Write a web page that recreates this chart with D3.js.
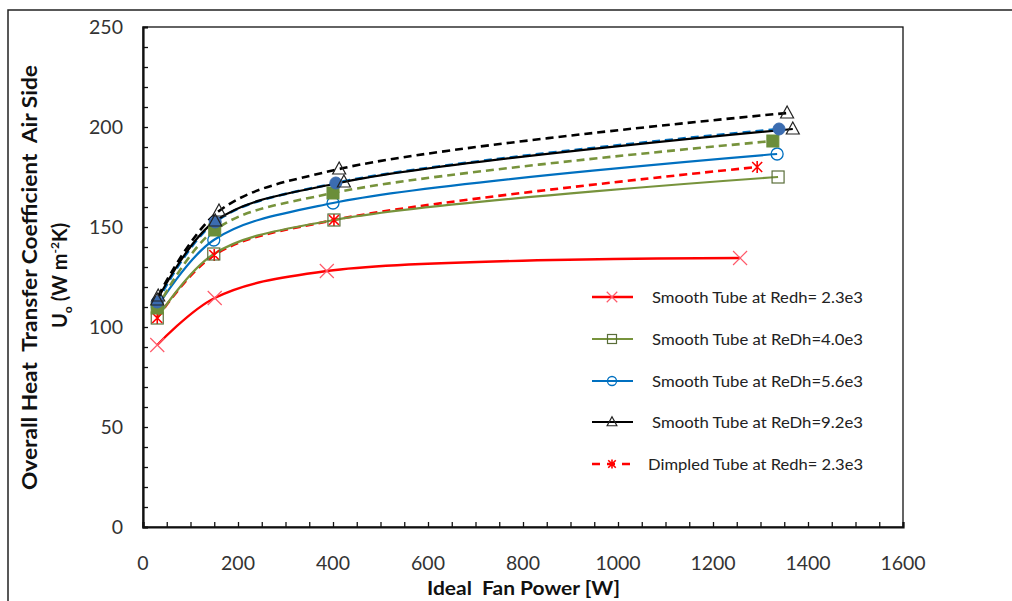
<!DOCTYPE html>
<html>
<head>
<meta charset="utf-8">
<script src="https://cdn.jsdelivr.net/npm/d3@7"></script>
<style>
  body { margin:0; background:#fff; }
  text { font-family: Lato, "Open Sans", sans-serif; white-space: pre; }
</style>
</head>
<body>
<div id="chart"></div>
<script>

// fan power [W] and U_o values
const smooth23X = [30, 151, 387, 1257];
const smooth23Y = [91, 114.5, 128, 134.5];
const smooth40X = [30, 149, 402, 1337];
const smooth40Y = [104.5, 136.5, 153.5, 175];
const smooth56X = [30, 149, 400, 1335];
const smooth56Y = [110, 143.5, 162, 186.5];
const smooth92X = [30, 152, 423, 1368];
const smooth92Y = [113.5, 153, 172.5, 199];
const dimpled23X = [30, 150, 402, 1293];
const dimpled23Y = [104.5, 136, 153.5, 180];
const dimpled40X = [30, 151, 400, 1326];
const dimpled40Y = [109.5, 148.5, 167, 193];
const dimpled56X = [30, 152, 406, 1339];
const dimpled56Y = [112.5, 152.5, 172, 199];
const dimpled92X = [32, 160, 413, 1356];
const dimpled92Y = [115.5, 158, 179, 207];

const xTicks = [0, 200, 400, 600, 800, 1000, 1200, 1400, 1600];
const yTicks = [0, 50, 100, 150, 200, 250];

const legendLabels = [
  "Smooth Tube at Redh= 2.3e3",
  "Smooth Tube at ReDh=4.0e3",
  "Smooth Tube at ReDh=5.6e3",
  "Smooth Tube at ReDh=9.2e3",
  "Dimpled Tube at Redh= 2.3e3"
];

const W = 1012, H = 601;
const svg = d3.select("#chart").append("svg")
  .attr("width", W).attr("height", H);

// outer frame
svg.append("rect").attr("x", 8).attr("y", 10).attr("width", 1010).attr("height", 600)
  .attr("fill", "none").attr("stroke", "#222").attr("stroke-width", 1.5);

const x = d3.scaleLinear().domain([0, 1600]).range([143, 903]);
const y = d3.scaleLinear().domain([0, 250]).range([527, 27]);

// plot frame
svg.append("rect").attr("x", 143).attr("y", 27).attr("width", 760).attr("height", 500)
  .attr("fill", "none").attr("stroke", "#111").attr("stroke-width", 1.3);

// minor ticks (inside)
const gx = svg.append("g").attr("transform", "translate(0,527)")
  .call(d3.axisBottom(x).tickValues(d3.range(0, 1601, 50)).tickSize(-5).tickFormat(""));
const gy = svg.append("g").attr("transform", "translate(143,0)")
  .call(d3.axisLeft(y).tickValues(d3.range(0, 251, 10)).tickSize(-5).tickFormat(""));
[gx, gy].forEach(g => {
  g.select(".domain").attr("stroke", "#111").attr("stroke-width", 2.2);
  g.selectAll(".tick line").attr("stroke", "#111").attr("stroke-width", 1.3);
});

// tick labels
svg.append("g").selectAll("text").data(xTicks).join("text")
  .attr("x", d => x(d)).attr("y", 570)
  .attr("text-anchor", "middle").attr("font-size", 19.5).attr("fill", "#333")
  .text(d => d);
svg.append("g").selectAll("text").data(yTicks).join("text")
  .attr("x", 123).attr("y", d => y(d) + 7)
  .attr("text-anchor", "end").attr("font-size", 19.5).attr("fill", "#333")
  .text(d => d);

// axis titles
svg.append("text").attr("x", 427).attr("y", 595)
  .attr("font-size", 19).attr("font-weight", "bold").attr("fill", "#111")
  .attr("textLength", 193).attr("lengthAdjust", "spacingAndGlyphs")
  .text("Ideal  Fan Power [W]");

const yt = svg.append("g").attr("transform", "rotate(-90)");
yt.append("text").attr("x", -490).attr("y", 37)
  .attr("font-size", 20).attr("font-weight", "bold").attr("fill", "#111")
  .attr("textLength", 425).attr("lengthAdjust", "spacingAndGlyphs")
  .text("Overall Heat  Transfer Coefficient  Air Side");
const t2 = yt.append("text").attr("x", -328).attr("y", 67)
  .attr("font-size", 20).attr("font-weight", "bold").attr("fill", "#111");
t2.append("tspan").text("U");
t2.append("tspan").attr("font-size", 12).attr("dy", 5).text("o");
t2.append("tspan").attr("dy", -5).text(" (W m");
t2.append("tspan").attr("font-size", 12).attr("dy", -8).text("-2");
t2.append("tspan").attr("dy", 8).text("K)");

// marker drawers
function marker(g, type, color, px, py, k) {
  k = k || 1;
  const s = 6 * k;
  if (type === "x") {
    const q = 7 * k;
    g.append("path").attr("d", `M${px-q},${py-q}L${px+q},${py+q}M${px-q},${py+q}L${px+q},${py-q}`)
      .attr("stroke", color).attr("stroke-width", 1.2).attr("fill", "none");
  } else if (type === "star") {
    g.append("path").attr("d", `M${px-5*k},${py-5*k}L${px+5*k},${py+5*k}M${px-5*k},${py+5*k}L${px+5*k},${py-5*k}M${px},${py-6*k}L${px},${py+6*k}`)
      .attr("stroke", color).attr("stroke-width", 1.6).attr("fill", "none");
  } else if (type === "square") {
    g.append("rect").attr("x", px-s).attr("y", py-s).attr("width", 2*s).attr("height", 2*s)
      .attr("fill", "none").attr("stroke", color).attr("stroke-width", 1.2);
  } else if (type === "fsquare") {
    g.append("rect").attr("x", px-s).attr("y", py-s).attr("width", 2*s).attr("height", 2*s)
      .attr("fill", color).attr("stroke", color);
  } else if (type === "circle") {
    g.append("circle").attr("cx", px).attr("cy", py).attr("r", s)
      .attr("fill", "none").attr("stroke", color).attr("stroke-width", 1.3);
  } else if (type === "fcircle") {
    g.append("circle").attr("cx", px).attr("cy", py).attr("r", s)
      .attr("fill", color).attr("stroke", color);
  } else if (type === "tri") {
    g.append("path").attr("d", `M${px},${py-7*k}L${px+6.5*k},${py+5*k}L${px-6.5*k},${py+5*k}Z`)
      .attr("fill", "none").attr("stroke", color).attr("stroke-width", 1.2);
  }
}

const series = [
  { xs: smooth23X, ys: smooth23Y, color: "#ff0000", m: "x", mc: "#ff5a6a", dash: null, w: 2.3 },
  { xs: dimpled23X, ys: dimpled23Y, color: "#ff0000", m: "star", mc: "#ff0000", dash: "8,5", w: 2.6 },
  { xs: smooth40X, ys: smooth40Y, color: "#77933c", m: "square", mc: "#5a6e3a", dash: null, w: 2.2 },
  { xs: smooth56X, ys: smooth56Y, color: "#0070c0", m: "circle", mc: "#0070c0", dash: null, w: 2.2 },
  { xs: dimpled40X, ys: dimpled40Y, color: "#77933c", m: "fsquare", mc: "#6b8e3a", dash: "8,5", w: 2.6 },
  { xs: dimpled56X, ys: dimpled56Y, color: "#0070c0", m: "fcircle", mc: "#3b6cb0", dash: "8,5", w: 2.6 },
  { xs: smooth92X, ys: smooth92Y, color: "#000000", m: "tri", mc: "#222", dash: null, w: 2.2 },
  { xs: dimpled92X, ys: dimpled92Y, color: "#000000", m: "tri", mc: "#222", dash: "8,5", w: 2.6 }
];

const line = d3.line().x(d => x(d[0])).y(d => y(d[1])).curve(d3.curveCatmullRom.alpha(0.5));

const plot = svg.append("g");
series.forEach(s => {
  const pts = s.xs.map((v, i) => [v, s.ys[i]]);
  plot.append("path").datum(pts).attr("d", line)
    .attr("fill", "none").attr("stroke", s.color).attr("stroke-width", s.w)
    .attr("stroke-dasharray", s.dash);
});
series.forEach(s => {
  s.xs.forEach((v, i) => marker(plot, s.m, s.mc, x(v), y(s.ys[i])));
});

// legend
const leg = svg.append("g");
const legRows = [297, 339, 381, 422, 464];
const legStyle = [series[0], series[2], series[3], series[6], series[1]];
legRows.forEach((ry, i) => {
  const s = legStyle[i];
  leg.append("line").attr("x1", 592).attr("x2", 633).attr("y1", ry).attr("y2", ry)
    .attr("stroke", s.color).attr("stroke-width", s.w).attr("stroke-dasharray", s.dash ? "8,7" : null);
  marker(leg, s.m, s.mc, 612, ry, 0.75);
  const lx = i === 4 ? 648 : 652;
  leg.append("text").attr("x", lx).attr("y", ry + 6)
    .attr("font-size", 16).attr("fill", "#222")
    .attr("textLength", 863 - lx).attr("lengthAdjust", "spacingAndGlyphs")
    .text(legendLabels[i]);
});

</script>
</body>
</html>
